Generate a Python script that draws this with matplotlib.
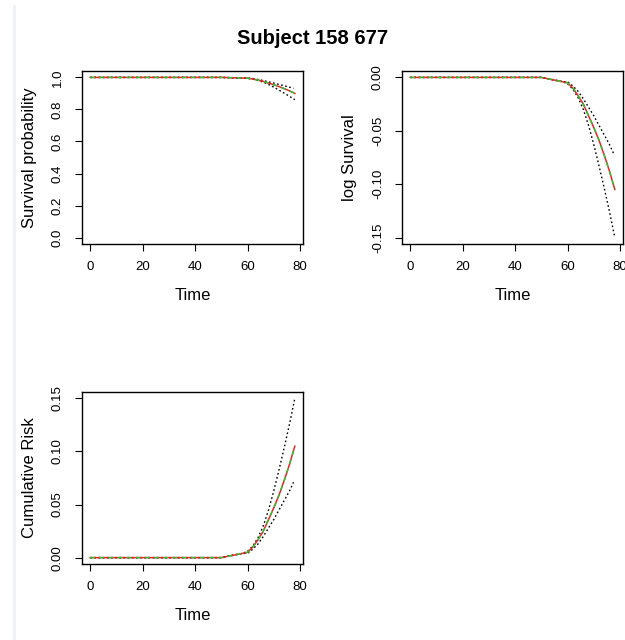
import numpy as np
import matplotlib
matplotlib.use('Agg')
import matplotlib.pyplot as plt
from matplotlib.lines import Line2D

plt.rcParams['font.family'] = ['Liberation Sans', 'DejaVu Sans']

# cumulative risk
time = [0, 50, 52, 54, 56, 58, 60, 62, 64, 66, 68, 70, 72, 74, 76, 78]
cr_est = [0, 0, 0.001, 0.002, 0.003, 0.004, 0.005, 0.010, 0.017, 0.025,
          0.036, 0.047, 0.059, 0.073, 0.088, 0.105]
time_up = [0, 50, 52, 54, 56, 58, 60, 62, 64, 66, 68, 70, 72, 74, 76, 78]
cr_up = [0, 0, 0.001, 0.002, 0.003, 0.004, 0.006, 0.011, 0.019, 0.030,
         0.045, 0.063, 0.083, 0.104, 0.126, 0.150]
time_lo = [0, 50, 52, 54, 56, 58, 60, 62, 64, 66, 68, 70, 72, 74, 76, 77.5]
cr_lo = [0, 0, 0.001, 0.002, 0.003, 0.004, 0.004, 0.008, 0.013, 0.020,
         0.028, 0.036, 0.045, 0.054, 0.063, 0.071]

xticks = [0, 20, 40, 60, 80]

cr_est = np.array(cr_est)
cr_up = np.array(cr_up)
cr_lo = np.array(cr_lo)

panels = [
    ('Survival probability', np.exp(-cr_est), np.exp(-cr_up), np.exp(-cr_lo),
     [0.0, 0.2, 0.4, 0.6, 0.8, 1.0], ['0.0', '0.2', '0.4', '0.6', '0.8', '1.0'], (0, 1)),
    ('log Survival', -cr_est, -cr_up, -cr_lo,
     [-0.15, -0.10, -0.05, 0.0], ['-0.15', '-0.10', '-0.05', '0.00'], (-0.15, 0)),
    ('Cumulative Risk', cr_est, cr_up, cr_lo,
     [0.0, 0.05, 0.10, 0.15], ['0.00', '0.05', '0.10', '0.15'], (0, 0.15)),
]

positions = [
    [82 / 625, 1 - 244 / 640, 221 / 625, 173 / 640],
    [402 / 625, 1 - 244 / 640, 221 / 625, 173 / 640],
    [82 / 625, 1 - 564 / 640, 221 / 625, 172 / 640],
]

fig = plt.figure(figsize=(6.25, 6.4), dpi=100)

for (ylab, est, up, lo, yt, ytl, ylim), pos in zip(panels, positions):
    ax = fig.add_axes(pos)
    ax.plot(time_up, up, color='black', lw=1, linestyle=(0, (1.2, 1.8)))
    ax.plot(time_lo, lo, color='black', lw=1, linestyle=(0, (1.2, 1.8)))
    ax.plot(time, est, color='#e8262a', lw=1.1)
    ax.plot(time, est, color='#2fc12f', lw=1.1, linestyle=(0, (3, 3)))

    xr = 78
    ax.set_xlim(-0.04 * xr, 78 + 0.04 * xr)
    yr = ylim[1] - ylim[0]
    ax.set_ylim(ylim[0] - 0.04 * yr, ylim[1] + 0.04 * yr)

    ax.set_xticks(xticks)
    ax.set_xticklabels([str(v) for v in xticks], fontsize=9.5)
    ax.set_yticks(yt)
    ax.set_yticklabels(ytl, fontsize=9.5, rotation=90, va='center')
    ax.tick_params(direction='out', length=5, width=0.8, pad=7)
    ax.tick_params(axis='y', pad=8)
    for s in ax.spines.values():
        s.set_linewidth(1.0)
    ax.set_xlabel('Time', fontsize=12, labelpad=11)
    ax.set_ylabel(ylab, fontsize=12, labelpad=11)

fig.text(0.5, 1 - 38 / 640, 'Subject 158 677', ha='center', va='center',
         fontsize=14.5, fontweight='bold')

# faint border at the left edge
fig.add_artist(Line2D([14 / 625, 14 / 625], [0, 1 - 6 / 640],
                      transform=fig.transFigure, color='#eef2f7', lw=2))

fig.savefig('out.png', dpi=100)
